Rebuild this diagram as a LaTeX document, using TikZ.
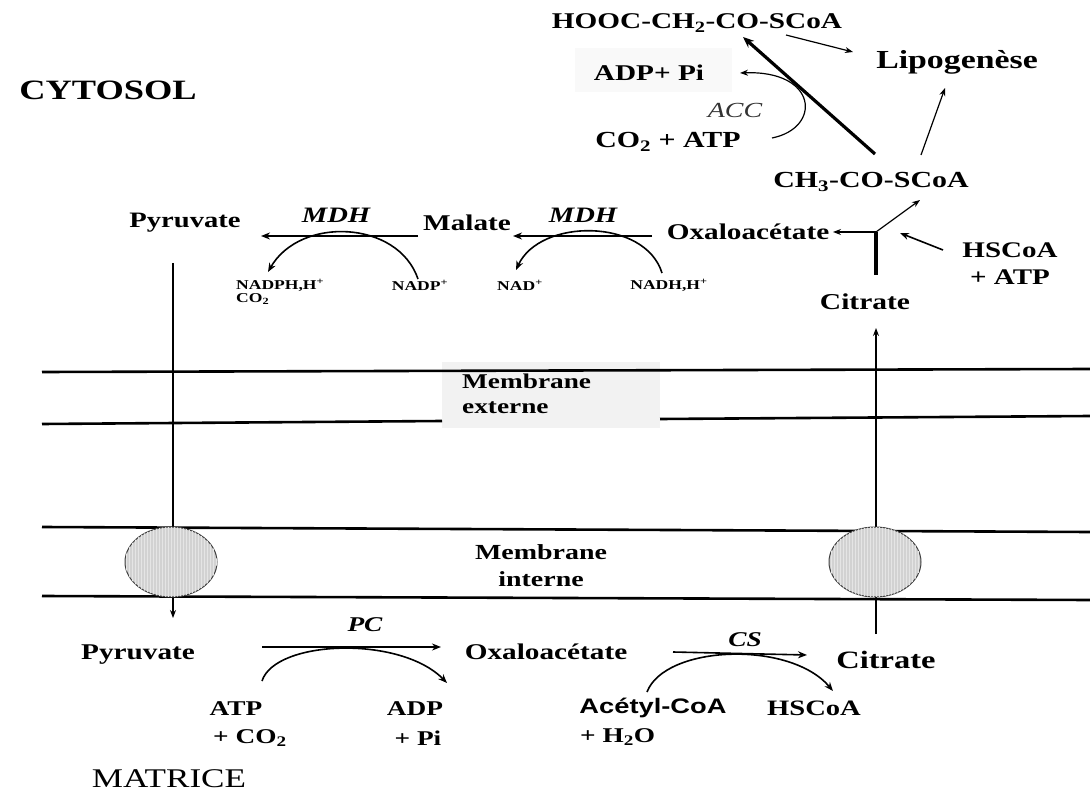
\documentclass[tikz,border=0pt]{standalone}
\usepackage{fontspec}
\setmainfont{Liberation Serif}[FakeStretch=1.3]
\newfontfamily\sansbold{Liberation Sans}[FakeStretch=1.3]
\usetikzlibrary{arrows.meta,shapes.geometric,patterns}
\begin{document}
\begin{tikzpicture}[x=1pt,y=-1pt,
  tx/.style={inner sep=0pt, font=\bfseries\fontsize{#1}{#1}\selectfont},
  rg/.style={inner sep=0pt, font=\fontsize{#1}{#1}\selectfont},
  enz/.style={inner sep=0pt, font=\bfseries\itshape\fontsize{#1}{#1}\selectfont},
  arr/.style={-{Stealth[length=9pt,width=7pt]}, line width=1.6pt},
  thinarr/.style={-{Stealth[length=8pt,width=6pt]}, line width=1.2pt},
  memb/.style={line width=2.6pt},
  chan/.style={draw=black!75, line width=1pt, fill=gray!35, ellipse, minimum width=92pt, minimum height=70pt, inner sep=0pt,
    postaction={pattern=vertical lines, pattern color=white!80!gray}},
]
\useasboundingbox (0,0) rectangle (1090,794);

% ---------------- membranes ----------------
\fill[gray!10] (442,362) rectangle (660,428);
\draw[memb] (42,372) -- (1090,369);
\draw[memb] (42,424) -- (442,421);
\draw[memb] (660,419) -- (1090,416);
\draw[memb] (42,527) -- (1090,532);
\draw[memb] (42,596) -- (1090,600);
\node[tx=21, align=left, anchor=west, font=\bfseries\fontsize{21}{25}\selectfont] (mext) at (462,394) {Membrane\\externe};
\node[tx=21.5, align=center, font=\bfseries\fontsize{21.5}{27}\selectfont] (mint) at (541,566) {Membrane\\interne};

% ---------------- labels ----------------
\node[tx=28] (cyto) at (108,90) {CYTOSOL};
\node[rg=27] (matr) at (169,779) {MATRICE};

% cytosol
\node[tx=22.5] (hooc) at (697,23) {HOOC-CH\textsubscript{2}-CO-SCoA};
\node[tx=26] (lipo) at (957,62) {Lipogenèse};
\fill[gray!5] (575,48) rectangle (732,92);
\node[tx=22.5] (adpc) at (649,73) {ADP+ Pi};
\node[inner sep=0pt, text=black!80, font=\itshape\fontsize{21.5}{21.5}\selectfont] (acc) at (735,110) {ACC};
\node[tx=23] (co2c) at (668,142) {CO\textsubscript{2} + ATP};
\node[tx=23] (ch3) at (871,182) {CH\textsubscript{3}-CO-SCoA};
\node[tx=22] (pyrc) at (185,223) {Pyruvate};
\node[enz=22] (mdh1) at (336,215) {MDH};
\node[tx=22.5] (mal) at (467,223) {Malate};
\node[enz=22] (mdh2) at (583,215) {MDH};
\node[tx=22.5] (oaac) at (748,232) {Oxaloacétate};
\node[tx=22.3] (hsc1) at (1010,250) {HSCoA};
\node[tx=22.3] (hsc2) at (1010,277) {+ ATP};
\node[tx=22.7] (citc) at (865,302) {Citrate};
\node[tx=13.5, anchor=west] (nadph) at (236,285) {NADPH,H\textsuperscript{+}};
\node[tx=13.5, anchor=west] (co2s) at (236,299) {CO\textsubscript{2}};
\node[tx=13.5] (nadp) at (420,285) {NADP\textsuperscript{+}};
\node[tx=13.5] (nad) at (520,285) {NAD\textsuperscript{+}};
\node[tx=13.5] (nadh) at (669,285) {NADH,H\textsuperscript{+}};

% matrix
\node[tx=22.5] (pyrm) at (138,655) {Pyruvate};
\node[enz=21] (pc) at (365,625) {PC};
\node[tx=22.5] (oaam) at (546,652) {Oxaloacétate};
\node[enz=21] (cs) at (745,640) {CS};
\node[tx=25] (citm) at (886,660) {Citrate};
\node[tx=21] (atp) at (236,709) {ATP};
\node[tx=21, anchor=west] (co2m) at (213,738) {+ CO\textsubscript{2}};
\node[tx=21] (adpm) at (415,709) {ADP};
\node[tx=21] (pim) at (418,738) {+ Pi};
\node[inner sep=0pt, font=\sansbold\bfseries\fontsize{21}{21}\selectfont] (acet) at (653,708) {Acétyl-CoA};
\node[tx=21, anchor=west] (h2o) at (580,737) {+ H\textsubscript{2}O};
\node[tx=22] (hscm) at (814,708) {HSCoA};

% ---------------- connector end points ----------------
\coordinate (pyrtop) at (173,263);
\coordinate (pyrbot) at (173,618);
\coordinate (cittop) at (876,328);
\coordinate (citbot) at (876,634);
\coordinate (j) at (876,232);
\coordinate (jbot) at (876,275);
\coordinate (oaatip) at (833,232);
\coordinate (ch3tip) at (920,200);
\coordinate (hsstart) at (943,250);
\coordinate (hstip) at (900,233);
\coordinate (thk1) at (875,154);
\coordinate (thk2) at (743,37);
\coordinate (hl1) at (786,35);
\coordinate (hl2) at (853,52);
\coordinate (cl1) at (921,155);
\coordinate (cl2) at (945,88);
\coordinate (accs) at (772,138);
\coordinate (acct) at (740,73);
\coordinate (m1s) at (418,236);
\coordinate (m1t) at (261,236);
\coordinate (c1s) at (418,279);
\coordinate (c1t) at (268,272);
\coordinate (m2s) at (652,236);
\coordinate (m2t) at (513,236);
\coordinate (c2s) at (662,273);
\coordinate (c2t) at (516,270);
\coordinate (pcs) at (262,647);
\coordinate (pct) at (441,647);
\coordinate (pccs) at (262,681);
\coordinate (pcct) at (447,683);
\coordinate (css) at (673,652);
\coordinate (cst) at (807,655);
\coordinate (cscs) at (647,692);
\coordinate (csct) at (833,691);

% ---------------- transport lines ----------------
\draw[thinarr] (pyrtop) -- (pyrbot);
\draw[thinarr] (citbot) -- (cittop);
\node[chan] (ch1) at (171,562) {};
\node[chan] (ch2) at (875,562) {};

% ---------------- cytosol reactions ----------------
\draw[line width=3.2pt] (jbot) -- (j);
\draw[thinarr] (j) -- (oaatip);
\draw[thinarr] (j) -- (ch3tip);
\draw[arr] (hsstart) -- (hstip);
\draw[line width=3.2pt, -{Stealth[length=11pt,width=9pt]}] (thk1) -- (thk2);
\draw[thinarr] (hl1) -- (hl2);
\draw[thinarr] (cl1) -- (cl2);
\draw[thinarr] (accs) .. controls (822,128) and (818,70) .. (acct);
\draw[arr] (m1s) -- (m1t);
\draw[arr] (c1s) .. controls (398,220) and (300,216) .. (c1t);
\draw[arr] (m2s) -- (m2t);
\draw[arr] (c2s) .. controls (645,218) and (540,218) .. (c2t);

% ---------------- matrix reactions ----------------
\draw[arr] (pcs) -- (pct);
\draw[arr] (pccs) .. controls (275,640) and (400,635) .. (pcct);
\draw[arr] (css) -- (cst);
\draw[arr] (cscs) .. controls (665,645) and (790,640) .. (csct);
\end{tikzpicture}
\end{document}
